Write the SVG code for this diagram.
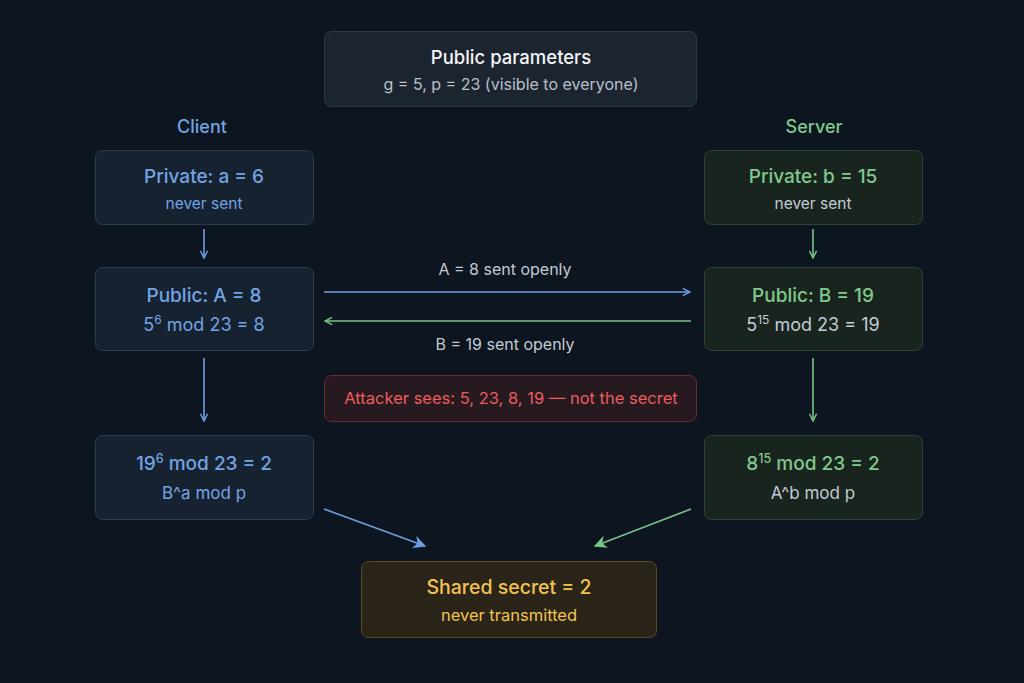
<svg xmlns="http://www.w3.org/2000/svg" width="1024" height="683" viewBox="0 0 1024 683">
<defs>
<style>
text{font-family:Inter,"Noto Sans","Liberation Sans",sans-serif;text-anchor:middle}
.cb{fill:#172230;stroke:#2c3b4e;stroke-width:1}
.sb{fill:#19241f;stroke:#2e4236;stroke-width:1}
.t{font-size:19px;font-weight:500}
.s{font-size:15.5px}
.blue{fill:#72a4e4}
.green{fill:#80c98c}
.gray{fill:#c3cad3}
.lineb{stroke:#6f9fe0;stroke-width:1.6;fill:none}
.lineg{stroke:#78c487;stroke-width:1.6;fill:none}
</style>
<marker id="ab" viewBox="0 0 10 10" refX="9" refY="5" markerWidth="9" markerHeight="9" markerUnits="userSpaceOnUse" orient="auto"><path d="M1,1 L9,5 L1,9" fill="none" stroke="#6f9fe0" stroke-width="1.6"/></marker>
<marker id="ag" viewBox="0 0 10 10" refX="9" refY="5" markerWidth="9" markerHeight="9" markerUnits="userSpaceOnUse" orient="auto"><path d="M1,1 L9,5 L1,9" fill="none" stroke="#78c487" stroke-width="1.6"/></marker>
<marker id="abd" viewBox="0 0 10 10" refX="9" refY="5" markerWidth="13" markerHeight="13" markerUnits="userSpaceOnUse" orient="auto"><path d="M0,0 L10,5 L0,10 L3,5 Z" fill="#6f9fe0"/></marker>
<marker id="agd" viewBox="0 0 10 10" refX="9" refY="5" markerWidth="13" markerHeight="13" markerUnits="userSpaceOnUse" orient="auto"><path d="M0,0 L10,5 L0,10 L3,5 Z" fill="#78c487"/></marker>
</defs>
<rect width="1024" height="683" fill="#0d1520"/>

<g id="params">
<rect x="324.5" y="31.5" width="372" height="75" rx="7" fill="#1b242f" stroke="#2f3946"/>
<text x="511" y="64" font-size="18.5" font-weight="500" fill="#f2f4f7">Public parameters</text>
<text x="511" y="90" font-size="16" fill="#b9c0ca">g = 5, p = 23 (visible to everyone)</text>
</g>

<g id="client-label"><text x="202" y="133" font-size="18" font-weight="500" class="blue">Client</text></g>
<g id="server-label"><text x="814" y="133" font-size="18" font-weight="500" class="green">Server</text></g>

<g id="client-private">
<rect x="95.5" y="150.5" width="218" height="74" rx="7" class="cb"/>
<text x="204" y="183" class="t blue">Private: a = 6</text>
<text x="204" y="209" class="s blue">never sent</text>
</g>
<g id="server-private">
<rect x="704.5" y="150.5" width="218" height="74" rx="7" class="sb"/>
<text x="813" y="183" class="t green">Private: b = 15</text>
<text x="813" y="209" class="s gray">never sent</text>
</g>

<g id="client-public">
<rect x="95.5" y="267.5" width="218" height="83" rx="7" class="cb"/>
<text x="204" y="302" class="t blue">Public: A = 8</text>
<text x="204" y="331" class="blue" font-size="18">5<tspan font-size="12" dy="-7">6</tspan><tspan dy="7"> mod 23 = 8</tspan></text>
</g>
<g id="server-public">
<rect x="704.5" y="267.5" width="218" height="83" rx="7" class="sb"/>
<text x="813" y="302" class="t green">Public: B = 19</text>
<text x="813" y="331" class="gray" font-size="18">5<tspan font-size="12" dy="-7">15</tspan><tspan dy="7"> mod 23 = 19</tspan></text>
</g>

<g id="attacker">
<rect x="324.5" y="375.5" width="372" height="46" rx="7" fill="#261a20" stroke="#6a2a30"/>
<text x="511" y="404" font-size="16.5" fill="#ee5c5c">Attacker sees: 5, 23, 8, 19 — not the secret</text>
</g>

<g id="client-secret">
<rect x="95.5" y="435.5" width="218" height="84" rx="7" class="cb"/>
<text x="204" y="470" class="t blue">19<tspan font-size="12.5" dy="-7">6</tspan><tspan dy="7"> mod 23 = 2</tspan></text>
<text x="204" y="499" class="blue" font-size="17">B^a mod p</text>
</g>
<g id="server-secret">
<rect x="704.5" y="435.5" width="218" height="84" rx="7" class="sb"/>
<text x="813" y="470" class="t green">8<tspan font-size="12.5" dy="-7">15</tspan><tspan dy="7"> mod 23 = 2</tspan></text>
<text x="813" y="499" class="gray" font-size="17">A^b mod p</text>
</g>

<g id="shared">
<rect x="361.5" y="561.5" width="295" height="76" rx="7" fill="#2a2419" stroke="#5c4a22"/>
<text x="509" y="594" font-size="19.5" font-weight="500" fill="#f2c250">Shared secret = 2</text>
<text x="509" y="621" font-size="16.5" fill="#f2c250">never transmitted</text>
</g>

<g id="connectors">
<line x1="204" y1="229" x2="204" y2="258" class="lineb" marker-end="url(#ab)"/>
<line x1="813" y1="229" x2="813" y2="258" class="lineg" marker-end="url(#ag)"/>
<line x1="324" y1="292" x2="690" y2="292" class="lineb" marker-end="url(#ab)"/>
<line x1="691" y1="321" x2="325" y2="321" class="lineg" marker-end="url(#ag)"/>
<line x1="204" y1="358" x2="204" y2="421" class="lineb" marker-end="url(#ab)"/>
<line x1="813" y1="358" x2="813" y2="421" class="lineg" marker-end="url(#ag)"/>
<line x1="324" y1="509" x2="425" y2="546" class="lineb" marker-end="url(#abd)"/>
<line x1="691" y1="509" x2="595" y2="546" class="lineg" marker-end="url(#agd)"/>
<text x="505" y="275" font-size="16" fill="#c3cad3">A = 8 sent openly</text>
<text x="505" y="350" font-size="16" fill="#c3cad3">B = 19 sent openly</text>
</g>
</svg>
